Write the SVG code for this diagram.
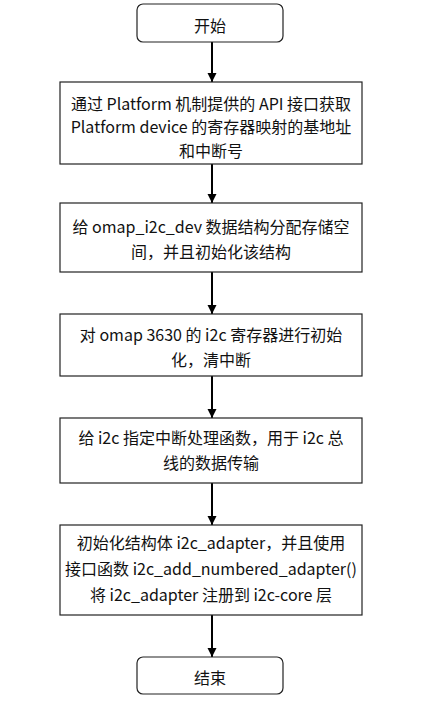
<svg xmlns="http://www.w3.org/2000/svg" width="429" height="711" viewBox="0 0 429 711">
<defs>
<marker id="ah" markerWidth="10" markerHeight="10" refX="9" refY="4.5" orient="auto" markerUnits="userSpaceOnUse">
<path d="M0,0 L9,4.5 L0,9 z" fill="#000"/>
</marker>
<style>
.box{fill:#fff;stroke:#222;stroke-width:1.2}
.t{font-family:"Noto Sans CJK SC","Noto Sans",sans-serif;font-size:16px;fill:#111;text-anchor:middle}
.c{stroke:#000;stroke-width:2;fill:none;marker-end:url(#ah)}
</style>
</defs>
<rect width="429" height="711" fill="#fff"/>
<g id="connectors">
<line class="c" x1="212" y1="42" x2="212" y2="82"/>
<line class="c" x1="212" y1="164" x2="212" y2="203"/>
<line class="c" x1="212" y1="272" x2="212" y2="314"/>
<line class="c" x1="212" y1="376" x2="212" y2="418"/>
<line class="c" x1="212" y1="483" x2="212" y2="525"/>
<line class="c" x1="212" y1="615" x2="212" y2="657"/>
</g>
<g id="start">
<rect class="box" x="137" y="4" width="146" height="38" rx="6"/>
<text class="t" x="210" y="32">开始</text>
</g>
<g id="step1">
<rect class="box" x="60" y="82" width="302" height="82"/>
<text class="t" x="211" y="110">通过 Platform 机制提供的 API 接口获取</text>
<text class="t" x="211" y="133">Platform device 的寄存器映射的基地址</text>
<text class="t" x="211" y="157">和中断号</text>
</g>
<g id="step2">
<rect class="box" x="60" y="203" width="302" height="69"/>
<text class="t" x="211" y="233">给 omap_i2c_dev 数据结构分配存储空</text>
<text class="t" x="211" y="258">间，并且初始化该结构</text>
</g>
<g id="step3">
<rect class="box" x="60" y="314" width="302" height="62"/>
<text class="t" x="211" y="341">对 omap 3630 的 i2c 寄存器进行初始</text>
<text class="t" x="211" y="366">化，清中断</text>
</g>
<g id="step4">
<rect class="box" x="60" y="418" width="302" height="65"/>
<text class="t" x="211" y="444">给 i2c 指定中断处理函数，用于 i2c 总</text>
<text class="t" x="211" y="469">线的数据传输</text>
</g>
<g id="step5">
<rect class="box" x="60" y="525" width="302" height="90"/>
<text class="t" x="211" y="549">初始化结构体 i2c_adapter，并且使用</text>
<text class="t" x="211" y="575">接口函数 i2c_add_numbered_adapter()</text>
<text class="t" x="211" y="601">将 i2c_adapter 注册到 i2c-core 层</text>
</g>
<g id="end">
<rect class="box" x="137" y="657" width="146" height="37" rx="6"/>
<text class="t" x="210" y="684">结束</text>
</g>
</svg>
